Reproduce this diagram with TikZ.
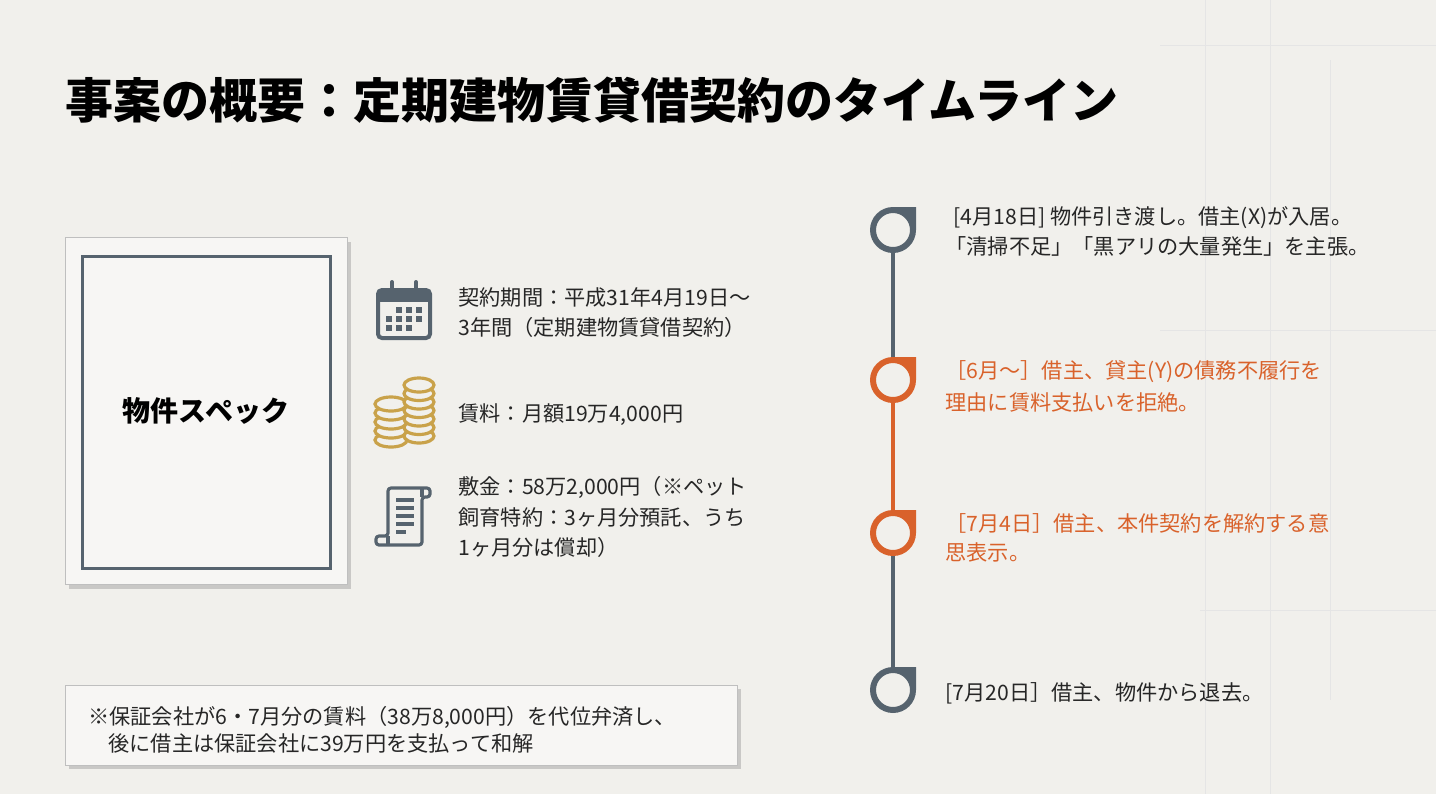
\documentclass[tikz,border=0pt]{standalone}
\usepackage{fontspec}
\setmainfont{Noto Sans CJK JP}
\usetikzlibrary{positioning, shadows}
\definecolor{bgpaper}{HTML}{F1F0EC}
\definecolor{slate}{HTML}{56636E}
\definecolor{rust}{HTML}{D9622B}
\definecolor{gold}{HTML}{C9A24A}
\tikzset{
  txt/.style={anchor=west, inner sep=0, font=\fontsize{10.6}{12}\selectfont, text=black!85},
  card/.style={fill=bgpaper!60!white, draw=black!25, line width=.5pt, drop shadow={shadow xshift=2pt, shadow yshift=-2pt, opacity=.35}},
  tlmark/.style={circle, minimum size=23pt, inner sep=0},
}
\newcommand{\tlring}[2]{%
  \fill[#2, even odd rule] (#1.center) ++(-11.5pt,0pt) arc[start angle=180, end angle=360, radius=11.5pt]
     -- ++(0pt,11.5pt) -- ++(-11.5pt,0pt) arc[start angle=90, end angle=180, radius=11.5pt] -- cycle
     (#1.center) circle[radius=8.5pt];}
\begin{document}
\begin{tikzpicture}[x=0.5pt, y=-0.5pt]
	\fill[bgpaper] (0,0) rectangle (1436,794);
	\useasboundingbox (0,0) rectangle (1436,794);
	% faint plan lines
	\begin{scope}[draw=black!10, line width=.4pt]
		\draw (1205,0) -- (1205,794) (1270,0) -- (1270,794) (1330,60) -- (1330,700);
		\draw (1160,45) -- (1436,45) (1160,330) -- (1436,330) (1200,610) -- (1436,610);
	\end{scope}
	\node[anchor=west, inner sep=0, font=\fontsize{24}{28}\selectfont\bfseries] (title) at (65,100) {事案の概要：定期建物賃貸借契約のタイムライン};
	% spec card
	\node[card, minimum width=141pt, minimum height=173.5pt] (spec) at (206,411) {};
	\draw[slate, line width=1.5pt] (82,256) rectangle (330,568);
	\node[font=\fontsize{14}{16}\selectfont\bfseries] (specttl) at (spec) {物件スペック};
	% calendar
	\draw[slate, line width=2pt, rounded corners=2pt] (378,290) rectangle (430,338);
	\fill[slate] (378,290) rectangle (430,302);
	\draw[slate, line width=2pt, line cap=round] (392,282) -- (392,296) (416,282) -- (416,296);
	\foreach \c/\r in {1/0,2/0,3/0,0/1,1/1,2/1,3/1,0/2,1/2,2/2}
		\fill[slate] (386+\c*10,307+\r*9) rectangle ++(6,6);
	% coins
	\foreach \k in {0,...,4}
		\draw[gold, line width=1.6pt, fill=bgpaper] (391,440-\k*9) ellipse[x radius=16, y radius=7];
	\foreach \k in {0,...,6}
		\draw[gold, line width=1.6pt, fill=bgpaper] (419,436-\k*8.5) ellipse[x radius=15, y radius=7];
	% scroll
	\draw[slate, line width=1.6pt, line join=round, rounded corners=1.5pt] (388,536) -- (388,488) -- (430,488) -- (430,497) -- (422,497) -- (422,545) -- (376,545) -- (376,536) -- cycle;
	\draw[slate, line width=1.6pt] (422,488) -- (422,497) (388,536) -- (388,545);
	\foreach \y/\l in {500/18,508/18,516/18,524/18,532/10}
		\draw[slate, line width=1.6pt] (396,\y) -- ++(\l,0);
	% spec texts
	\node[txt] (term1) at (458,297) {契約期間：平成31年4月19日～};
	\node[txt] (term2) at (458,327) {3年間（定期建物賃貸借契約）};
	\node[txt] (rent) at (458,415) {賃料：月額19万4,000円};
	\node[txt] (dep1) at (458,487) {敷金：58万2,000円（※ペット};
	\node[txt] (dep2) at (458,517) {飼育特約：3ヶ月分預託、うち};
	\node[txt] (dep3) at (458,547) {1ヶ月分は償却）};
	% note card
	\node[card, minimum width=336pt, minimum height=40pt] (note) at (401,725) {};
	\node[txt] (note1) at (88,717) {※保証会社が6・7月分の賃料（38万8,000円）を代位弁済し、};
	\node[txt] (note2) at (108,743) {後に借主は保証会社に39万円を支払って和解};
	% timeline
	\node[tlmark] (m1) at (893,230) {};
	\node[tlmark] (m2) at (893,380) {};
	\node[tlmark] (m3) at (893,533) {};
	\node[tlmark] (m4) at (893,690) {};
	\draw[slate, line width=2pt] (m1) -- (m2);
	\draw[rust, line width=2pt] (m2) -- (m3);
	\draw[slate, line width=2pt] (m3) -- (m4);
	\tlring{m1}{slate}
	\tlring{m2}{rust}
	\tlring{m3}{rust}
	\tlring{m4}{slate}
	\node[txt] (e1a) at (953,218) {[4月18日] 物件引き渡し。借主(X)が入居。};
	\node[txt] (e1b) at (945,246) {「清掃不足」「黒アリの大量発生」を主張。};
	\node[txt, text=rust] (e2a) at (945,372) {［6月～］借主、貸主(Y)の債務不履行を};
	\node[txt, text=rust] (e2b) at (945,402) {理由に賃料支払いを拒絶。};
	\node[txt, text=rust] (e3a) at (945,523) {［7月4日］借主、本件契約を解約する意};
	\node[txt, text=rust] (e3b) at (945,552) {思表示。};
	\node[txt] (e4) at (945,693) {[7月20日］借主、物件から退去。};
\end{tikzpicture}
\end{document}
